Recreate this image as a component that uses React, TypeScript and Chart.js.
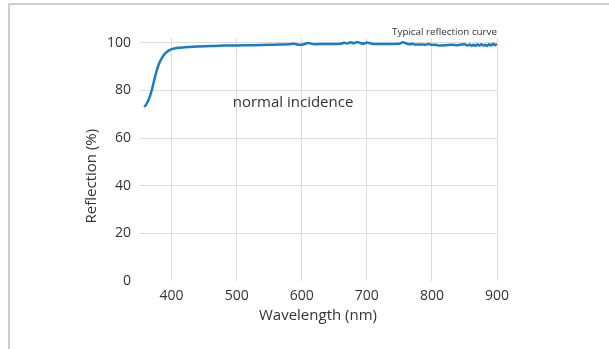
import React, { useEffect, useRef } from "react";
import { Chart, registerables } from "chart.js";

Chart.register(...registerables);

const wavelengths = [
  358, 362, 366, 370, 374, 378, 382, 386, 390, 395, 400, 410, 420, 440, 460, 480, 500, 520, 540, 560,
  580, 588, 595, 602, 610, 615, 620, 640, 660, 665, 670, 675, 680, 685, 690, 695, 700, 705, 710, 730,
  750, 755, 760, 765, 770, 775, 780, 790, 795, 800, 805, 810, 820, 830, 840, 845, 850, 855, 858, 861,
  864, 867, 870, 873, 876, 879, 882, 885, 888, 891, 894, 897, 900,
];
const reflection = [
  73, 74.5, 77, 80.5, 85, 89, 92, 94, 95.5, 96.6, 97.3, 97.9, 98.1, 98.4, 98.6, 98.8, 98.9, 99.0, 99.1, 99.2,
  99.4, 99.6, 99.2, 99.3, 99.9, 99.6, 99.4, 99.5, 99.6, 100.0, 99.7, 100.2, 99.8, 100.3, 99.9, 99.6, 100.1, 99.8, 99.5, 99.5,
  99.6, 100.2, 99.8, 99.4, 99.6, 99.2, 99.3, 99.2, 99.5, 99.1, 99.2, 98.9, 99.0, 99.2, 99.0, 99.3, 99.4, 98.9, 99.3, 98.7,
  99.2, 98.7, 99.3, 98.8, 99.4, 98.8, 99.2, 98.7, 99.4, 98.8, 99.6, 99.0, 99.5,
];
const xTicks = [400, 500, 600, 700, 800, 900];
const yTicks = [0, 20, 40, 60, 80, 100];

const FONT = "'Open Sans', 'DejaVu Sans', sans-serif";
const TEXT = "#333333";

export default function App() {
  const ref = useRef<HTMLCanvasElement | null>(null);

  useEffect(() => {
    if (!ref.current) return;
    const annot = {
      id: "annot",
      afterDraw(chart: any) {
        const { ctx, scales } = chart;
        const x = scales.x;
        const y = scales.y;
        ctx.save();
        ctx.fillStyle = TEXT;
        ctx.textBaseline = "middle";
        ctx.textAlign = "left";
        ctx.font = `15px ${FONT}`;
        ctx.fillText("normal incidence", x.getPixelForValue(494), y.getPixelForValue(74.8));
        ctx.textAlign = "right";
        ctx.font = `9.8px ${FONT}`;
        ctx.fillText("Typical reflection curve", x.getPixelForValue(900), y.getPixelForValue(104.6));
        // y axis title, centred a little below the chart-area middle as in the reference
        ctx.translate(y.left + 12, y.getPixelForValue(44));
        ctx.rotate(-Math.PI / 2);
        ctx.textAlign = "center";
        ctx.font = `15px ${FONT}`;
        ctx.fillText("Reflection (%)", 0, 0);
        ctx.restore();
      },
    };
    const chart = new Chart(ref.current, {
      type: "line",
      data: {
        datasets: [
          {
            data: wavelengths.map((w, i) => ({ x: w, y: reflection[i] })),
            borderColor: "#1b7cc4",
            borderWidth: 2.5,
            pointRadius: 0,
            fill: false,
            cubicInterpolationMode: "monotone",
          },
        ],
      },
      options: {
        animation: false,
        responsive: false,
        maintainAspectRatio: false,
        layout: { padding: { left: 80, right: 112, top: 38, bottom: 20 } },
        plugins: { legend: { display: false }, tooltip: { enabled: false } },
        scales: {
          x: {
            type: "linear",
            min: 350,
            max: 900,
            afterBuildTicks: (s: any) => {
              s.ticks = xTicks.map((v) => ({ value: v }));
            },
            afterFit: (s: any) => {
              s.height = 48;
            },
            border: { display: false },
            grid: { color: "#dcdcdc", drawTicks: false, lineWidth: 1 },
            ticks: { color: TEXT, font: { family: FONT, size: 14 }, padding: 7, autoSkip: false, maxRotation: 0 },
            title: {
              display: true,
              text: "Wavelength (nm)",
              color: TEXT,
              font: { family: FONT, size: 15 },
              padding: { top: 2, bottom: 4 },
            },
          },
          y: {
            type: "linear",
            min: 0,
            max: 102,
            afterBuildTicks: (s: any) => {
              s.ticks = yTicks.map((v) => ({ value: v }));
            },
            afterFit: (s: any) => {
              s.width = 59;
            },
            border: { display: false },
            grid: {
              drawTicks: false,
              lineWidth: 1,
              color: (c: any) => (c.tick && c.tick.value === 0 ? "rgba(0,0,0,0)" : "#dcdcdc"),
            },
            ticks: { color: TEXT, font: { family: FONT, size: 14 }, padding: 8 },
            title: { display: false, text: "Reflection (%)" },
          },
        },
      },
      plugins: [annot],
    });
    return () => chart.destroy();
  }, []);

  return (
    <div style={{ position: "fixed", left: 0, top: 0, width: 609, height: 349, background: "#fff", overflow: "hidden" }}>
      <div
        style={{
          position: "absolute",
          left: 8,
          top: 3,
          width: 620,
          height: 360,
          borderLeft: "2px solid #cfcfcf",
          borderTop: "2px solid #cfcfcf",
          boxSizing: "border-box",
        }}
      />
      <canvas ref={ref} width={609} height={349} style={{ position: "absolute", left: 0, top: 0, width: 609, height: 349 }} />
    </div>
  );
}
